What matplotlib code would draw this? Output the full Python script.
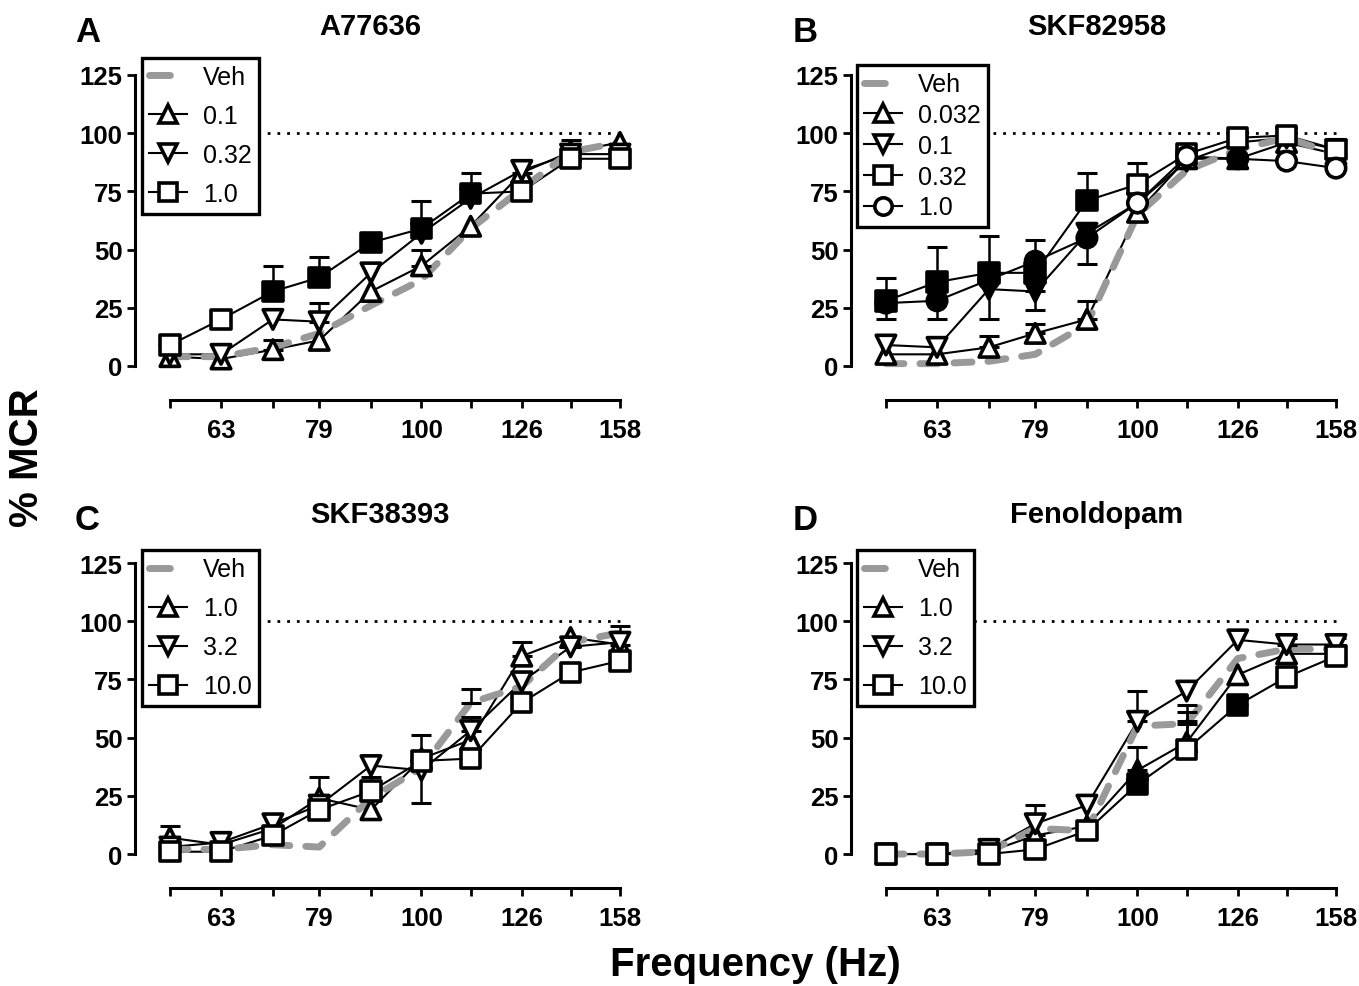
import matplotlib
matplotlib.use('Agg')
import matplotlib.pyplot as plt
from matplotlib.lines import Line2D
from matplotlib.ticker import NullLocator, FixedFormatter
import numpy as np

plt.rcParams['font.family'] = ['Liberation Sans', 'DejaVu Sans']
plt.rcParams['font.weight'] = 'bold'

# Frequencies (Hz)
freq = [56, 63, 71, 79, 89, 100, 112, 126, 141, 158]
freq_labels = ['', '63', '', '79', '', '100', '', '126', '', '158']
y_ticks = [0, 25, 50, 75, 100, 125]

# ---- A: A77636
veh_A = [4, 4, 8, 14, 26, 37, 59, 76, 92, 96]
a_01 = [4, 3, 7, 11, 32, 43, 60, 83, 92, 96]
a_01_up = [0, 0, 4, 0, 0, 7, 0, 5, 5, 0]
a_032 = [5, 5, 20, 19, 40, 57, 72, 84, 91, 91]
a_032_up = [0, 0, 0, 8, 0, 0, 0, 0, 0, 0]
a_10 = [9, 20, 32, 38, 53, 59, 74, 75, 89, 89]
a_10_up = [0, 0, 11, 9, 2, 12, 9, 0, 0, 0]
a_10_fill = [2, 3, 4, 5, 6]

# ---- B: SKF82958
veh_B = [1, 1, 2, 5, 18, 65, 84, 93, 98, 91]
b_0032 = [5, 5, 8, 14, 20, 66, 89, 89, 96, 91]
b_0032_up = [0, 0, 5, 4, 8, 0, 0, 0, 0, 0]
b_01 = [9, 8, 33, 32, 57, 70, 88, 96, 98, 93]
b_01_lo = [0, 0, 0, 8, 0, 0, 0, 0, 0, 0]
b_01_fill = [2, 3, 4]
b_032 = [28, 36, 40, 40, 71, 78, 91, 98, 99, 93]
b_032_up = [10, 15, 16, 0, 12, 9, 0, 0, 0, 0]
b_032_lo = [8, 0, 0, 0, 0, 0, 0, 0, 0, 0]
b_032_fill = [0, 1, 2, 3, 4]
b_10 = [27, 28, 37, 45, 55, 70, 90, 89, 88, 85]
b_10_up = [0, 0, 0, 9, 0, 0, 0, 0, 0, 0]
b_10_lo = [0, 8, 17, 0, 11, 0, 0, 0, 0, 0]
b_10_fill = [0, 1, 2, 3, 4, 7]

# ---- C: SKF38393
veh_C = [2, 2, 4, 3, 24, 37, 65, 72, 91, 95]
veh_C_up = [0, 0, 0, 0, 0, 0, 6, 0, 0, 0]
c_10 = [7, 4, 11, 24, 19, 41, 49, 85, 93, 90]
c_10_up = [5, 0, 0, 9, 0, 0, 0, 6, 0, 8]
c_32 = [3, 5, 13, 21, 38, 36, 53, 74, 89, 91]
c_32_up = [0, 0, 0, 0, 0, 15, 6, 0, 0, 0]
c_32_lo = [0, 0, 0, 0, 0, 14, 0, 0, 0, 0]
c_100 = [1, 1, 8, 19, 27, 40, 41, 65, 78, 83]
c_100_up = [0, 0, 0, 0, 6, 0, 0, 0, 0, 0]

# ---- D: Fenoldopam
veh_D = [0, 0, 1, 11, 10, 55, 56, 84, 88, 88]
veh_D_up = [0, 0, 0, 0, 0, 0, 8, 0, 0, 0]
d_10 = [0, 0, 1, 8, 12, 36, 48, 77, 86, 86]
d_10_up = [0, 0, 0, 13, 0, 10, 13, 0, 0, 0]
d_10_fill = [5]
d_32 = [0, 0, 2, 13, 21, 57, 70, 92, 90, 90]
d_32_up = [0, 0, 0, 0, 0, 13, 0, 0, 3, 3]
d_100 = [0, 0, 0, 2, 10, 30, 45, 64, 76, 85]
d_100_up = [0, 0, 0, 0, 0, 0, 12, 4, 0, 0]
d_100_fill = [5, 7]

GRAY = '#999999'
MS = 14
MEW = 2.6


def draw_err(ax, y, lo, up, z):
    x = np.array(freq, dtype=float)
    y = np.array(y, dtype=float)
    lo = np.array(lo, dtype=float)
    up = np.array(up, dtype=float)
    m = (lo > 0) | (up > 0)
    if m.any():
        ax.errorbar(x[m], y[m], yerr=[lo[m], up[m]], fmt='none', ecolor='k',
                    elinewidth=1.8, capsize=7, capthick=2.2, zorder=z,
                    clip_on=False)


def draw_series(ax, y, marker, up=None, lo=None, fill=(), z=3):
    zeros = [0] * len(freq)
    up = zeros if up is None else up
    lo = zeros if lo is None else lo
    ax.plot(freq, y, color='k', lw=1.5, zorder=2, clip_on=False)
    draw_err(ax, y, lo, up, z)
    faces = ['k' if i in fill else 'white' for i in range(len(freq))]
    ax.scatter(freq, y, s=MS ** 2, marker=marker, facecolors=faces,
               edgecolors='k', linewidths=MEW, zorder=z + 0.5, clip_on=False)


def draw_veh(ax, y, up=None):
    ax.plot(freq, y, color=GRAY, lw=5, linestyle=(0, (2.6, 2.3)),
            dash_capstyle='round', zorder=2.5, clip_on=False)
    if up is not None:
        draw_err(ax, y, [0] * len(freq), up, 2.6)


def style_axes(ax):
    ax.set_xscale('log')
    ax.set_xlim(51.67, 161.7)
    ax.set_ylim(0, 125)
    ax.set_xticks(freq)
    ax.xaxis.set_minor_locator(NullLocator())
    ax.xaxis.set_major_formatter(FixedFormatter(freq_labels))
    ax.set_yticks(y_ticks)
    for s in ['top', 'right']:
        ax.spines[s].set_visible(False)
    ax.spines['left'].set_linewidth(2.2)
    ax.spines['bottom'].set_linewidth(2.2)
    ax.spines['left'].set_bounds(0, 125)
    ax.spines['bottom'].set_bounds(56, 158)
    ax.spines['bottom'].set_position(('outward', 24.5))
    ax.tick_params(axis='both', direction='out', length=6, width=2,
                   labelsize=18.5)
    ax.tick_params(axis='x', pad=7)
    ax.tick_params(axis='y', pad=3)
    ax.hlines(100, 56, 158, colors='k', linestyles=(0, (1, 2.5)), lw=2,
              zorder=1)


def add_legend(ax, labels, markers, anchor, spacing):
    handles = [Line2D([0], [0], color=GRAY, lw=5, linestyle=(0, (3.0, 10)),
                      dash_capstyle='round')]
    for mk in markers:
        handles.append(Line2D([0], [0], color='k', lw=1.5, marker=mk,
                              markersize=12.5, markerfacecolor='white',
                              markeredgecolor='k', markeredgewidth=2.6))
    leg = ax.legend(handles, ['Veh'] + labels, loc='upper left',
                    bbox_to_anchor=anchor,
                    prop={'size': 18, 'weight': 'normal'}, frameon=True,
                    fancybox=False, framealpha=1, edgecolor='k',
                    borderpad=0.3, handlelength=1.5, handletextpad=0.65,
                    labelspacing=spacing, borderaxespad=0)
    leg.get_frame().set_linewidth(2.4)
    leg.set_zorder(10)


fig = plt.figure(figsize=(13.59, 9.87), dpi=100)
W, H = 1359.0, 987.0
aw, ah = 495 / W, 291 / H
axA = fig.add_axes([135 / W, 0.6282, aw, ah])
axB = fig.add_axes([851 / W, 0.6282, aw, ah])
axC = fig.add_axes([135 / W, 0.1337, aw, ah])
axD = fig.add_axes([851 / W, 0.1337, aw, ah])

# A
style_axes(axA)
draw_series(axA, a_01, '^', up=a_01_up, z=3)
draw_series(axA, a_032, 'v', up=a_032_up, z=4)
draw_series(axA, a_10, 's', up=a_10_up, fill=a_10_fill, z=5)
draw_veh(axA, veh_A)
add_legend(axA, ['0.1', '0.32', '1.0'], ['^', 'v', 's'], (0.014, 1.06), 0.6)

# B
style_axes(axB)
draw_series(axB, b_0032, '^', up=b_0032_up, z=3)
draw_series(axB, b_01, 'v', lo=b_01_lo, fill=b_01_fill, z=4)
draw_series(axB, b_032, 's', up=b_032_up, lo=b_032_lo, fill=b_032_fill, z=5)
draw_series(axB, b_10, 'o', up=b_10_up, lo=b_10_lo, fill=b_10_fill, z=6)
draw_veh(axB, veh_B)
add_legend(axB, ['0.032', '0.1', '0.32', '1.0'], ['^', 'v', 's', 'o'],
           (0.012, 1.035), 0.27)

# C
style_axes(axC)
draw_series(axC, c_10, '^', up=c_10_up, z=3)
draw_series(axC, c_32, 'v', up=c_32_up, lo=c_32_lo, z=4)
draw_series(axC, c_100, 's', up=c_100_up, z=5)
draw_veh(axC, veh_C, up=veh_C_up)
add_legend(axC, ['1.0', '3.2', '10.0'], ['^', 'v', 's'], (0.014, 1.045), 0.6)

# D
style_axes(axD)
draw_series(axD, d_10, '^', up=d_10_up, fill=d_10_fill, z=3)
draw_series(axD, d_32, 'v', up=d_32_up, z=4)
draw_series(axD, d_100, 's', up=d_100_up, fill=d_100_fill, z=5)
draw_veh(axD, veh_D, up=veh_D_up)
add_legend(axD, ['1.0', '3.2', '10.0'], ['^', 'v', 's'], (0.012, 1.045), 0.6)

# titles and panel letters
titles = [('A', 'A77636', 75, 370, 30), ('B', 'SKF82958', 793, 1097, 30),
          ('C', 'SKF38393', 75, 380, 518), ('D', 'Fenoldopam', 793, 1097, 518)]
for letter, title, lx, tx, ty in titles:
    fig.text(lx / W, 1 - (ty + 2) / H, letter, fontsize=25, fontweight='bold',
             ha='left', va='center')
    fig.text(tx / W, 1 - (ty - 3) / H, title, fontsize=21, fontweight='bold',
             ha='center', va='center')

fig.text(27 / W, 1 - 458 / H, '% MCR', fontsize=29, fontweight='bold',
         rotation=90, ha='center', va='center')
fig.text(755 / W, 1 - 965 / H, 'Frequency (Hz)', fontsize=29,
         fontweight='bold', ha='center', va='center')

fig.savefig('out.png', dpi=100)
